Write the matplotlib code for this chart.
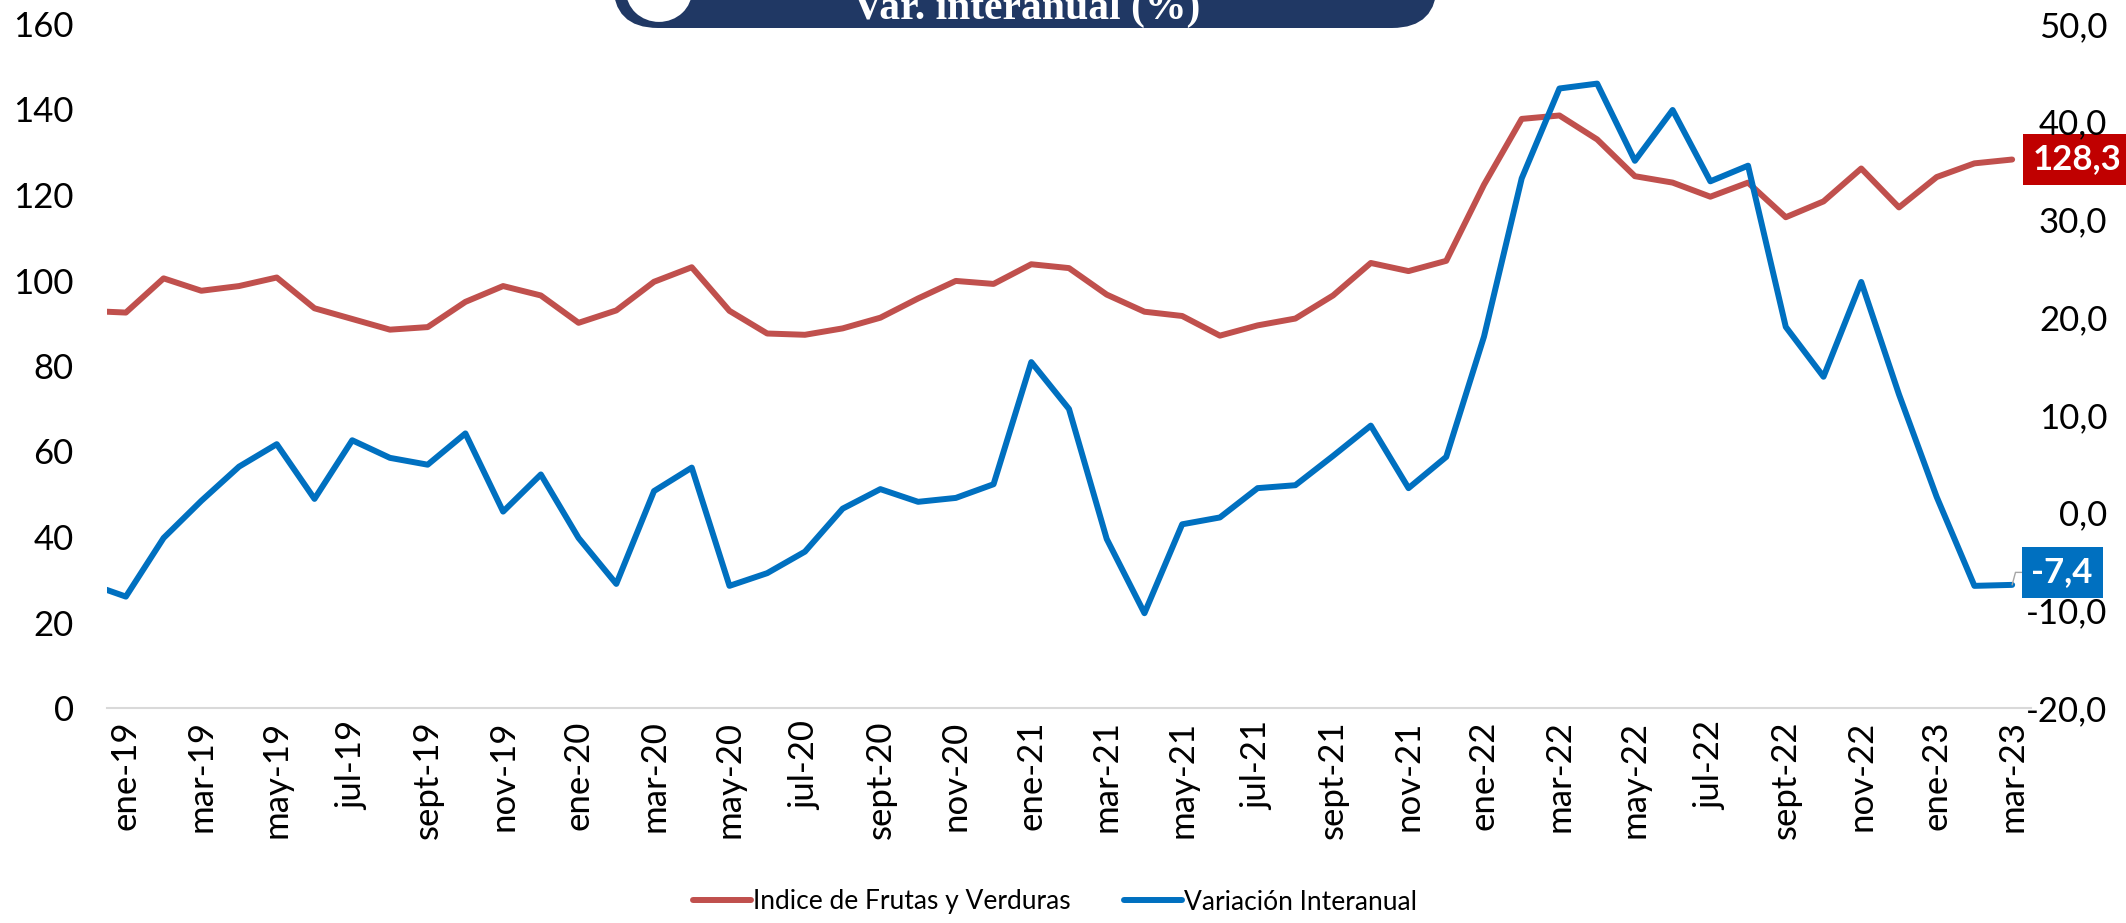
import numpy as np
import pandas as pd
import matplotlib
matplotlib.use("Agg")
from matplotlib import pyplot as plt
from matplotlib.patches import FancyBboxPatch, Ellipse

# Series: first entry is the mid-December 2018 reading, then monthly ene-19 .. mar-23
fechas = ["2018-12-16"] + [d.strftime("%Y-%m-%d") for d in pd.date_range("2019-01-01", "2023-03-01", freq="MS")]

indice = [92.7,
          92.5, 100.5, 97.6, 98.7, 100.7, 93.5, 91.0, 88.5, 89.1, 95.0, 98.7, 96.5,
          90.1, 93.0, 99.7, 103.1, 92.9, 87.6, 87.3, 88.8, 91.3, 95.8, 99.9, 99.2,
          103.8, 102.9, 96.7, 92.7, 91.7, 87.1, 89.5, 91.1, 96.5, 104.1, 102.2, 104.6,
          122.4, 137.8, 138.6, 133.0, 124.4, 122.9, 119.6, 122.9, 114.8, 118.5, 126.2, 117.1,
          124.2, 127.4, 128.3]

variacion = [-7.9,
             -8.6, -2.6, 1.2, 4.7, 7.0, 1.4, 7.4, 5.6, 4.9, 8.1, 0.1, 3.9,
             -2.6, -7.3, 2.2, 4.6, -7.5, -6.2, -4.0, 0.4, 2.4, 1.1, 1.5, 2.9,
             15.4, 10.6, -2.7, -10.3, -1.2, -0.5, 2.5, 2.8, 5.8, 8.9, 2.5, 5.7,
             18.0, 34.2, 43.4, 43.9, 36.0, 41.2, 33.9, 35.5, 19.0, 13.9, 23.6, 12.1,
             1.6, -7.5, -7.4]

etiquetas = ["ene-19", "mar-19", "may-19", "jul-19", "sept-19", "nov-19",
             "ene-20", "mar-20", "may-20", "jul-20", "sept-20", "nov-20",
             "ene-21", "mar-21", "may-21", "jul-21", "sept-21", "nov-21",
             "ene-22", "mar-22", "may-22", "jul-22", "sept-22", "nov-22",
             "ene-23", "mar-23"]

ROJO = "#C0504D"
AZUL = "#0070C0"
NAVY = "#203864"
FUENTE = "Lato"


def meses_desde_2019(fechas):
    # fractional month index, ene-19 = 0
    out = []
    for f in pd.to_datetime(fechas):
        out.append((f.year - 2019) * 12 + (f.month - 1) + (f.day - 1) / f.days_in_month)
    return np.array(out)


x = meses_desde_2019(fechas)

W, H = 2126, 923
fig = plt.figure(figsize=(W / 100, H / 100), dpi=100)
ax = fig.add_axes([107 / W, 1 - 708 / H, (2031 - 107) / W, (708 - 24) / H])
ax2 = ax.twinx()

l1, = ax.plot(x, indice, color=ROJO, lw=4.3, solid_joinstyle="round", solid_capstyle="round",
              label="Indice de Frutas y Verduras")
l2, = ax2.plot(x, variacion, color=AZUL, lw=4.3, solid_joinstyle="round", solid_capstyle="round",
               label="Variación Interanual")

ax.set_xlim(-0.5, 50.5)
ax.set_ylim(0, 160)
ax2.set_ylim(-20, 50)
ax.set_yticks(np.arange(0, 161, 20))
ax2.set_yticks(np.arange(-20, 51, 10))
ax2.set_yticklabels([f"{v:.1f}".replace(".", ",") for v in np.arange(-20, 51, 10)])
ax.set_xticks(np.arange(0, 51, 2))
ax.set_xticklabels(etiquetas, rotation=90)

for a in (ax, ax2):
    for s in a.spines.values():
        s.set_visible(False)
    a.tick_params(length=0, labelsize=25)
    for lbl in a.get_xticklabels() + a.get_yticklabels():
        lbl.set_fontfamily(FUENTE)
ax.spines["bottom"].set_visible(True)
ax.spines["bottom"].set_color("#D9D9D9")
ax.spines["bottom"].set_linewidth(1.5)
ax.tick_params(axis="y", pad=24)
ax.tick_params(axis="x", pad=9)
ax2.tick_params(axis="y", pad=55)
for lbl in ax2.get_yticklabels():
    lbl.set_ha("right")

# value labels on the last month
ax.annotate(f"{indice[-1]:.1f}".replace(".", ","), xy=(x[-1], indice[-1]), xytext=(47, 0),
            textcoords="offset points", ha="center", va="center", color="white",
            fontsize=25, fontweight="bold", family=FUENTE, annotation_clip=False,
            bbox=dict(boxstyle="square,pad=0.28", fc="#C00000", ec="none"))
ax2.annotate(f"{variacion[-1]:.1f}".replace(".", ","), xy=(x[-1], variacion[-1]), xytext=(36, 9),
             textcoords="offset points", ha="center", va="center", color="white",
             fontsize=25, fontweight="bold", family=FUENTE, annotation_clip=False,
             bbox=dict(boxstyle="square,pad=0.28", fc=AZUL, ec="none"),
             arrowprops=dict(arrowstyle="-", color="#A6A6A6", lw=1,
                             connectionstyle="angle,angleA=0,angleB=75,rad=0",
                             shrinkA=0, shrinkB=0))

fig.legend([l1, l2], [l1.get_label(), l2.get_label()], loc="center", ncol=2,
           bbox_to_anchor=(1055 / W, 1 - 902 / H), frameon=False,
           prop={"family": FUENTE, "size": 19}, handlelength=2.2, handletextpad=0.1,
           columnspacing=2.0)

# header badge, cut by the top edge
top = fig.add_axes([0, 0, 1, 1], facecolor="none", zorder=5)
top.set_xlim(0, W)
top.set_ylim(H, 0)
top.axis("off")
top.add_patch(FancyBboxPatch((613, -80), 824, 108, boxstyle="round,pad=0,rounding_size=45",
                             fc=NAVY, ec="none"))
top.add_patch(Ellipse((659, -9), 70, 66, fc="white", ec=NAVY, lw=3))
top.text(1027, 19, "Var. interanual (%)", ha="center", va="baseline", color="white",
         fontsize=30, fontweight="bold", family="Liberation Serif")

fig.savefig("out.png", dpi=100)
